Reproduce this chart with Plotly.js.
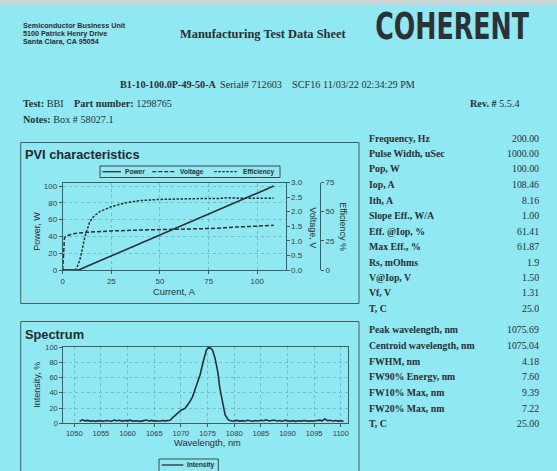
<!DOCTYPE html>
<html><head><meta charset="utf-8">
<script src="https://cdn.plot.ly/plotly-3.0.1.min.js"></script>
<style>html,body{margin:0;padding:0;background:#8fe8f2;}#chart{width:557px;height:471px;}</style>
</head><body><div id="chart"></div>
<script>
// ---------- DATA ----------
const powerCurrent = [0, 8.16, 20, 40, 60, 80, 100, 108.46];
const powerW       = [0, 0, 11.8, 31.7, 51.7, 71.6, 91.6, 100];

const voltCurrent = [0, 0.5, 0.9, 1.5, 5, 12, 25, 40, 55, 70, 80, 85, 90, 100, 108.46];
const voltageV    = [0, 0.5, 1.1, 1.15, 1.24, 1.29, 1.34, 1.37, 1.39, 1.42, 1.43, 1.46, 1.47, 1.50, 1.53];

const effCurrent = [0, 6.3, 7.2, 8.8, 10.2, 11.4, 13.9, 16, 19, 22, 25, 32.6, 39.4, 49.6, 60, 70, 80, 85, 90, 100, 108.46];
const efficiency = [0, 0, 1.5, 8.6, 19, 28.6, 41.4, 46, 50, 52.5, 54.3, 57.7, 59.4, 60.5, 61.0, 61.2, 61.3, 61.9, 61.6, 61.5, 61.4];

const wavelength = [
 1051.0,1051.5,1052.0,1052.5,1053.0,1053.5,1054.0,1054.5,1055.0,1055.5,1056.0,1056.5,1057.0,1057.5,1058.0,1058.5,1059.0,1059.5,
 1060.0,1060.5,1061.0,1061.5,1062.0,1062.5,1063.0,1063.5,1064.0,1064.5,1065.0,1065.5,1066.0,1066.5,1067.0,1067.5,
 1068.0,1068.3,1068.7,1069.2,1069.6,1070.1,1070.8,1071.2,1071.7,1072.2,1072.6,1073.1,1073.6,1074.2,1074.8,1075.3,1075.9,
 1076.4,1076.9,1077.3,1077.8,1078.3,1078.9,1079.5,
 1080.0,1080.5,1081.0,1081.5,1082.0,1082.5,1083.0,1083.5,1084.0,1084.5,1085.0,1085.5,1086.0,1086.5,1087.0,1087.5,1088.0,1088.5,
 1089.0,1089.5,1090.0,1090.5,1091.0,1091.5,1092.0,1092.5,1093.0,1093.5,1094.0,1094.5,1095.0,1095.5,1096.0,1096.5,1097.0,1097.5,
 1098.0,1098.5,1099.0,1099.5,1100.0,1100.5];
const intensity = [
 2.5,4.5,3.2,3.8,2.9,3.4,2.6,3.5,3.0,2.8,3.6,3.1,2.7,4.2,3.3,4.0,2.9,3.7,
 3.2,4.1,2.8,3.4,3.0,2.6,3.5,4.3,3.1,3.8,2.9,3.3,2.7,3.6,3.2,3.9,
 4.0,6.5,9.0,13.0,15.5,17.5,19.7,23.0,28.5,35.0,43.9,53.0,63.6,81.0,96.5,100.0,96.5,
 85.5,68.0,46.0,26.0,11.0,4.4,3.0,
 3.2,3.8,2.9,3.5,3.1,4.0,3.3,2.8,3.6,3.0,3.9,3.4,4.5,3.1,3.7,4.2,3.0,3.6,
 2.7,3.9,3.2,2.8,3.5,2.6,3.3,2.9,3.7,3.1,2.8,3.4,3.0,3.6,4.1,3.2,5.8,3.5,
 3.9,3.0,3.6,2.9,3.3,2.5];

const pviTicksX = [0, 25, 50, 75, 100];
const specTicksX = [1050,1055,1060,1065,1070,1075,1080,1085,1090,1095,1100];

const paramLabels = ["Frequency, Hz","Pulse Width, uSec","Pop, W","Iop, A","Ith, A","Slope Eff., W/A","Eff. @Iop, %","Max Eff., %","Rs, mOhms","V@Iop, V","Vf, V","T, C"];
const paramValues = ["200.00","1000.00","100.00","108.46","8.16","1.00","61.41","61.87","1.9","1.50","1.31","25.0"];
const specLabels = ["Peak wavelength, nm","Centroid wavelength, nm","FWHM, nm","FW90% Energy, nm","FW10% Max, nm","FW20% Max, nm","T, C"];
const specValues = ["1075.69","1075.04","4.18","7.60","9.39","7.22","25.00"];

// ---------- LAYOUT HELPERS ----------
const W = 557, H = 471;
const px = x => x / W, py = y => 1 - y / H;
const SANS = "Liberation Sans, Arial, sans-serif";
const SERIF = "Liberation Serif, Times New Roman, serif";
const INK = "#2c2f30";
const LINE = "#283133";
const GRID = "#74bcc4";

function txt(text, x, y, o) {
  o = o || {};
  return {text: text, x: px(x), y: py(y), xref: "paper", yref: "paper", showarrow: false,
    xanchor: o.xa || "left", yanchor: "middle", textangle: o.angle || 0,
    font: {family: o.family || SERIF, size: o.size || 10, color: o.color || INK}};
}
function rect(x0, y0, x1, y1, o) {
  o = o || {};
  return {type: "rect", xref: "paper", yref: "paper", x0: px(x0), x1: px(x1), y0: py(y0), y1: py(y1),
    line: {color: o.lc || "#4a5659", width: o.lw === undefined ? 1 : o.lw}, fillcolor: o.fill || "rgba(0,0,0,0)", layer: "below"};
}
function seg(x0, y0, x1, y1, dash) {
  return {type: "line", xref: "paper", yref: "paper", x0: px(x0), x1: px(x1), y0: py(y0), y1: py(y1),
    line: {color: LINE, width: 1.3, dash: dash || "solid"}};
}

// ---------- TRACES ----------
const traces = [
  {x: powerCurrent, y: powerW, xaxis: "x", yaxis: "y", mode: "lines", name: "Power",
   line: {color: LINE, width: 1.6}},
  {x: voltCurrent, y: voltageV, xaxis: "x", yaxis: "y2", mode: "lines", name: "Voltage",
   line: {color: LINE, width: 1.5, dash: "4px,2px"}},
  {x: effCurrent, y: efficiency, xaxis: "x", yaxis: "y3", mode: "lines", name: "Efficiency",
   line: {color: LINE, width: 1.5, dash: "2.5px,1.5px"}},
  {x: wavelength, y: intensity, xaxis: "x2", yaxis: "y4", mode: "lines", name: "Intensity",
   line: {color: LINE, width: 1.6}}
];

const tickFont = {family: SANS, size: 8, color: "#3a3d3e"};
const tickFontS = {family: SANS, size: 7.5, color: "#3a3d3e"};
const axisBase = {showline: true, linecolor: "#4d585a", linewidth: 1, ticks: "outside", ticklen: 3,
  tickcolor: "#4d585a", zeroline: false, fixedrange: true};

const pviL = 62.7, pviR = 285.5, pviT = 182.5, pviB = 270;
const spL = 63.3, spR = 348.3, spT = 347, spB = 423.3;

const layout = {
  width: W, height: H, margin: {l: 0, r: 0, t: 0, b: 0},
  paper_bgcolor: "#8fe8f2", plot_bgcolor: "rgba(0,0,0,0)", showlegend: false,
  xaxis: Object.assign({}, axisBase, {domain: [px(pviL), px(pviR)], anchor: "y", range: [0, 114.5],
    tickvals: pviTicksX, showgrid: true, gridcolor: GRID, griddash: "dot", gridwidth: 1, mirror: true, tickfont: tickFont}),
  yaxis: Object.assign({}, axisBase, {domain: [py(pviB), py(pviT)], anchor: "x", range: [0, 104.2],
    dtick: 20, showgrid: true, gridcolor: GRID, griddash: "dot", gridwidth: 1, tickfont: tickFont}),
  yaxis2: Object.assign({}, axisBase, {overlaying: "y", side: "right", anchor: "x", range: [0, 3],
    dtick: 0.5, tickformat: ".1f", showgrid: false, tickfont: tickFont}),
  yaxis3: Object.assign({}, axisBase, {overlaying: "y", side: "right", anchor: "free", position: px(320),
    range: [0, 75], tickvals: [0, 25, 50, 75], showgrid: false, tickfont: tickFont}),
  xaxis2: Object.assign({}, axisBase, {domain: [px(spL), px(spR)], anchor: "y4", range: [1047.94, 1101.4],
    tickvals: specTicksX, showgrid: true, gridcolor: GRID, griddash: "dot", gridwidth: 1, mirror: true, tickfont: tickFontS}),
  yaxis4: Object.assign({}, axisBase, {domain: [py(spB), py(spT)], anchor: "x2", range: [0, 100],
    dtick: 20, showgrid: true, gridcolor: GRID, griddash: "dot", gridwidth: 1, mirror: true, tickfont: tickFontS}),
  shapes: [],
  annotations: []
};

const A = layout.annotations, S = layout.shapes;

// scan edge at top
S.push(rect(0, 0, W, 5, {fill: "#cdd4d7", lw: 0}));
// chart boxes
S.push(rect(20.7, 142.5, 359, 303.5, {lc: "#4f5b5e"}));
S.push(rect(20.7, 321.5, 359, 480, {lc: "#4f5b5e"}));

// header
A.push(txt("<b>Semiconductor Business Unit</b>", 20.7, 25.7, {family: SANS, size: 7.2}));
A.push(txt("<b>5100 Patrick Henry Drive</b>", 20.7, 33.6, {family: SANS, size: 7.2}));
A.push(txt("<b>Santa Clara, CA 95054</b>", 20.7, 41.5, {family: SANS, size: 7.2}));
A.push(txt("<b>Manufacturing Test Data Sheet</b>", 177.7, 34, {size: 12.4}));
A.push(txt("<b>COHERENT</b>", 452, 26.5, {xa: "center", family: "Liberation Sans Narrow, DejaVu Sans Condensed, sans-serif", size: 37, color: "#2d3133"}));

A.push(txt("<b>B1-10-100.0P-49-50-A</b>", 118.3, 85, {size: 10.2}));
A.push(txt("Serial# 712603", 218, 85, {size: 10.2}));
A.push(txt("SCF16", 290, 85, {size: 10.2}));
A.push(txt("11/03/22 02:34:29 PM", 320.7, 85, {size: 10.2}));

A.push(txt("<b>Test:</b> BBI", 20.7, 103.3, {size: 10.2}));
A.push(txt("<b>Part number:</b> 1298765", 71.7, 103.3, {size: 10.2}));
A.push(txt("<b>Rev. #</b> 5.5.4", 521.7, 103.3, {xa: "right", size: 10.2}));
A.push(txt("<b>Notes:</b> Box # 58027.1", 20.7, 120, {size: 10.2}));

// parameter table
const rowY1 = [138.3, 153.3, 168.7, 184.3, 200, 215.7, 231, 246.7, 262.3, 277.3, 292, 308.5];
paramLabels.forEach((l, i) => {
  A.push(txt("<b>" + l + "</b>", 366.7, rowY1[i], {size: 9.8}));
  A.push(txt(paramValues[i], 541, rowY1[i], {xa: "right", size: 9.8}));
});
const rowY2 = [329.5, 345, 361, 376.7, 392.3, 408, 423.5];
specLabels.forEach((l, i) => {
  A.push(txt("<b>" + l + "</b>", 366.7, rowY2[i], {size: 9.8}));
  A.push(txt(specValues[i], 541, rowY2[i], {xa: "right", size: 9.8}));
});

// chart titles
A.push(txt("<b>PVI characteristics</b>", 22.5, 154.5, {family: SANS, size: 12.8, color: "#262a2b"}));
A.push(txt("<b>Spectrum</b>", 22.5, 334.5, {family: SANS, size: 12.8, color: "#262a2b"}));

// axis titles
A.push(txt("Power, W", 36.7, 231, {xa: "center", family: SANS, size: 9, angle: -90}));
A.push(txt("Voltage, V", 312.7, 228, {xa: "center", family: SANS, size: 9, angle: 90}));
A.push(txt("Efficiency %", 343.5, 226.7, {xa: "center", family: SANS, size: 9, angle: 90}));
A.push(txt("Current, A", 174, 291.7, {xa: "center", family: SANS, size: 9.3}));
A.push(txt("Intensity, %", 36.7, 385, {xa: "center", family: SANS, size: 9, angle: -90}));
A.push(txt("Wavelength, nm", 207.5, 443.3, {xa: "center", family: SANS, size: 9.3}));

// legends (drawn boxes)
S.push(rect(100, 166, 280, 177.5, {lc: "#3f4a4c"}));
S.push(seg(102.5, 171.7, 121, 171.7));
A.push(txt("<b>Power</b>", 122.5, 171.9, {family: SANS, size: 6.6}));
S.push(seg(152.3, 171.7, 175, 171.7, "4px,2px"));
A.push(txt("<b>Voltage</b>", 177.5, 171.9, {family: SANS, size: 6.6}));
S.push(seg(214.3, 171.7, 238.3, 171.7, "2.5px,1.5px"));
A.push(txt("<b>Efficiency</b>", 240.5, 171.9, {family: SANS, size: 6.6}));

S.push(rect(159, 459, 218.3, 475, {lc: "#3f4a4c"}));
S.push(seg(161.7, 465, 183.3, 465));
A.push(txt("<b>Intensity</b>", 185, 465.2, {family: SANS, size: 6.6}));

Plotly.newPlot("chart", traces, layout, {staticPlot: true, displayModeBar: false}).then(function (gd) {
  // condense the logo word horizontally to the width of the printed logotype
  gd.querySelectorAll("text.annotation-text").forEach(function (t) {
    if (t.textContent === "COHERENT") {
      const b = t.getBBox();
      const cx = b.x + b.width / 2;
      const s = 154 / b.width;
      t.setAttribute("transform", "translate(" + cx + ",0) scale(" + s + ",1) translate(" + (-cx) + ",0)");
    }
  });
});
</script>
</body></html>
